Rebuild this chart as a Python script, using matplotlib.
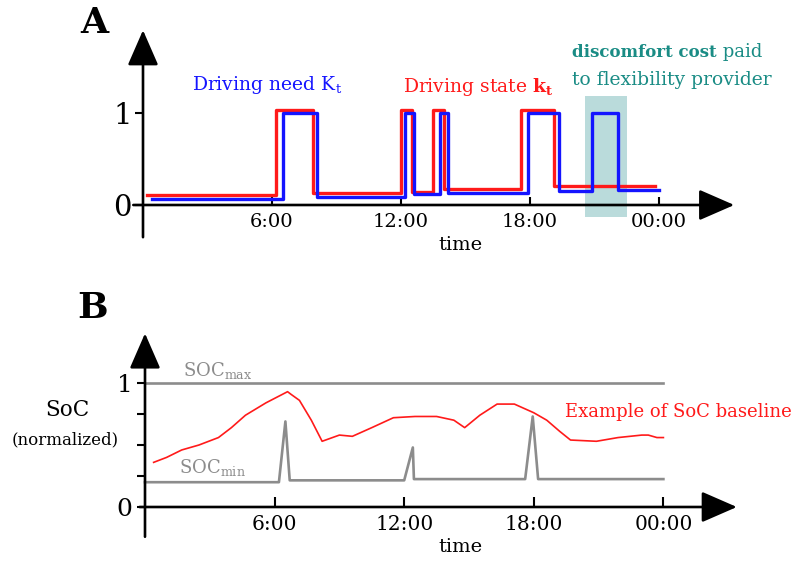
import matplotlib
matplotlib.use("Agg")
import matplotlib.pyplot as plt
import numpy as np

plt.rcParams['font.family'] = ['DejaVu Serif']
plt.rcParams['mathtext.fontset'] = 'custom'
plt.rcParams['mathtext.rm'] = 'DejaVu Serif'
plt.rcParams['mathtext.bf'] = 'DejaVu Serif:bold'

# ---- data (hours, normalized values) ----
tick_hours = [6, 12, 18, 24]
tick_labels = ['6:00', '12:00', '18:00', '00:00']

need_t = [0.4, 6.5, 8.1, 12.2, 12.6, 13.8, 14.2, 17.9, 19.35, 20.9, 22.1, 24.0]
need_v = [0.065, 1.0, 0.087, 1.0, 0.12, 1.0, 0.13, 1.0, 0.15, 1.0, 0.16, 0.16]

state_t = [0.2, 6.2, 7.9, 12.0, 12.5, 13.5, 14.0, 17.6, 19.1, 23.8]
state_v = [0.11, 1.03, 0.13, 1.03, 0.14, 1.03, 0.17, 1.03, 0.21, 0.21]

discomfort_span = (20.55, 22.5)

soc_max_t = [0, 24]
soc_max_v = [1.0, 1.0]
soc_min_t = [0, 6.2, 6.5, 6.7, 12.0, 12.4, 12.45, 17.6, 17.95, 18.2, 24]
soc_min_v = [0.2, 0.2, 0.69, 0.215, 0.215, 0.48, 0.225, 0.225, 0.73, 0.225, 0.225]

soc_t = [0.4, 1.0, 1.7, 2.5, 3.4, 4.0, 4.65, 5.6, 6.6, 6.75, 7.15, 7.7, 8.2, 9.0, 9.6,
         10.5, 11.5, 12.5, 13.5, 14.3, 14.8, 15.5, 16.3, 17.1, 18.0, 18.6, 19.2,
         19.7, 20.9, 21.9, 23.0, 23.3, 23.7, 24.0]
soc_v = [0.36, 0.40, 0.46, 0.50, 0.56, 0.64, 0.74, 0.84, 0.93, 0.91, 0.86, 0.70, 0.53,
         0.58, 0.57, 0.64, 0.72, 0.73, 0.73, 0.70, 0.64, 0.74, 0.83, 0.83, 0.76, 0.70,
         0.61, 0.54, 0.53, 0.56, 0.58, 0.58, 0.56, 0.56]

W, H = 801, 561
fig = plt.figure(figsize=(W / 100, H / 100), dpi=100)

BLUE = '#1414ff'
RED = '#ff1a1a'
GRAY = '#8c8c8c'
TEAL = '#1a8c85'


def place(ax, x0, hpx, y0, vpx, xlim, ylim):
    left = x0 + xlim[0] * hpx
    right = x0 + xlim[1] * hpx
    top = y0 - ylim[1] * vpx
    bottom = y0 - ylim[0] * vpx
    ax.set_position([left / W, 1 - bottom / H, (right - left) / W, (bottom - top) / H])
    ax.set_xlim(xlim)
    ax.set_ylim(ylim)


def arrow_axes(ax, xr, yr):
    for s in ax.spines.values():
        s.set_visible(False)
    ax.spines['left'].set_position(('data', 0))
    ax.spines['bottom'].set_position(('data', 0))
    st = dict(arrowstyle='-|>,head_length=0.55,head_width=0.24', mutation_scale=40,
              lw=1.9, color='black', shrinkA=0, shrinkB=0)
    ax.annotate('', xy=(xr[1], 0), xytext=(xr[0], 0), arrowprops=st)
    ax.annotate('', xy=(0, yr[1]), xytext=(0, yr[0]), arrowprops=st)
    ax.set_xticks(tick_hours)
    ax.set_xticklabels(tick_labels)
    ax.patch.set_visible(False)


def fig_text(x, y, s, **kw):
    fig.text(x / W, 1 - y / H, s, **kw)


# ---------------- Panel A ----------------
axA = fig.add_axes([0, 0, 1, 1])
place(axA, 143, 21.5, 205, 92, (-2, 28.5), (-0.6, 2.2))
arrow_axes(axA, (-0.45, 27.5), (-0.35, 1.9))
axA.fill_between(discomfort_span, -0.13, 1.18, color='#a9d3d3', alpha=0.8, lw=0, zorder=0)
axA.step(state_t, state_v, where='post', color=RED, lw=2.4, zorder=2)
axA.step(need_t, need_v, where='post', color=BLUE, lw=2.4, zorder=3)
axA.set_yticks([0, 1])
axA.set_yticklabels(['0', '1'], fontsize=21)
axA.tick_params(axis='x', direction='in', length=6, width=1.5, pad=6, labelsize=14)
axA.tick_params(axis='y', direction='out', length=6, width=1.5, pad=2)

axA.text(2.28, 1.30, r'Driving need $\mathregular{K_t}$', color=BLUE, fontsize=13.5, va='center')
axA.text(12.1, 1.28, r'Driving state $\mathbf{k_t}$', color=RED, fontsize=13.5, va='center')
t1 = axA.text(19.95, 1.66, 'discomfort cost', color=TEAL, fontsize=12,
              fontweight='bold', va='center')
axA.annotate(' paid', xy=(1, 0.5), xycoords=t1, va='center', ha='left',
             color=TEAL, fontsize=13)
axA.text(19.95, 1.36, 'to flexibility provider', color=TEAL, fontsize=13.5, va='center')

fig_text(94.5, 23, 'A', fontsize=26, fontweight='bold', ha='center', va='center')
fig_text(460, 245, 'time', fontsize=14, ha='center', va='center')

# ---------------- Panel B ----------------
axB = fig.add_axes([0, 0.5, 1, 0.4])
place(axB, 145, 21.6, 507, 124, (-2, 28.5), (-0.4, 1.45))
arrow_axes(axB, (-0.25, 27.4), (-0.24, 1.4))
axB.plot(soc_max_t, soc_max_v, color=GRAY, lw=1.9)
axB.plot(soc_min_t, soc_min_v, color=GRAY, lw=1.9)
axB.plot(soc_t, soc_v, color=RED, lw=1.2)
axB.set_yticks([0, 0.25, 0.5, 0.75, 1])
axB.set_yticklabels(['0', '', '', '', '1'], fontsize=18)
axB.tick_params(axis='x', direction='in', length=7, width=1.5, pad=6, labelsize=14.5)
axB.tick_params(axis='y', direction='out', length=6, width=1.5, pad=3)

axB.text(1.76, 1.10, r'SOC$_\mathregular{max}$', color=GRAY, fontsize=13, va='center')
axB.text(1.57, 0.32, r'SOC$_\mathregular{min}$', color=GRAY, fontsize=13, va='center')
axB.text(19.45, 0.77, 'Example of SoC baseline', color=RED, fontsize=13, va='center')

fig_text(92.5, 308, 'B', fontsize=26, fontweight='bold', ha='center', va='center')
fig_text(67, 410, 'SoC', fontsize=15.5, ha='center', va='center')
fig_text(65, 440, '(normalized)', fontsize=12, ha='center', va='center')
fig_text(460, 547, 'time', fontsize=14, ha='center', va='center')

fig.savefig('out.png', dpi=100)
